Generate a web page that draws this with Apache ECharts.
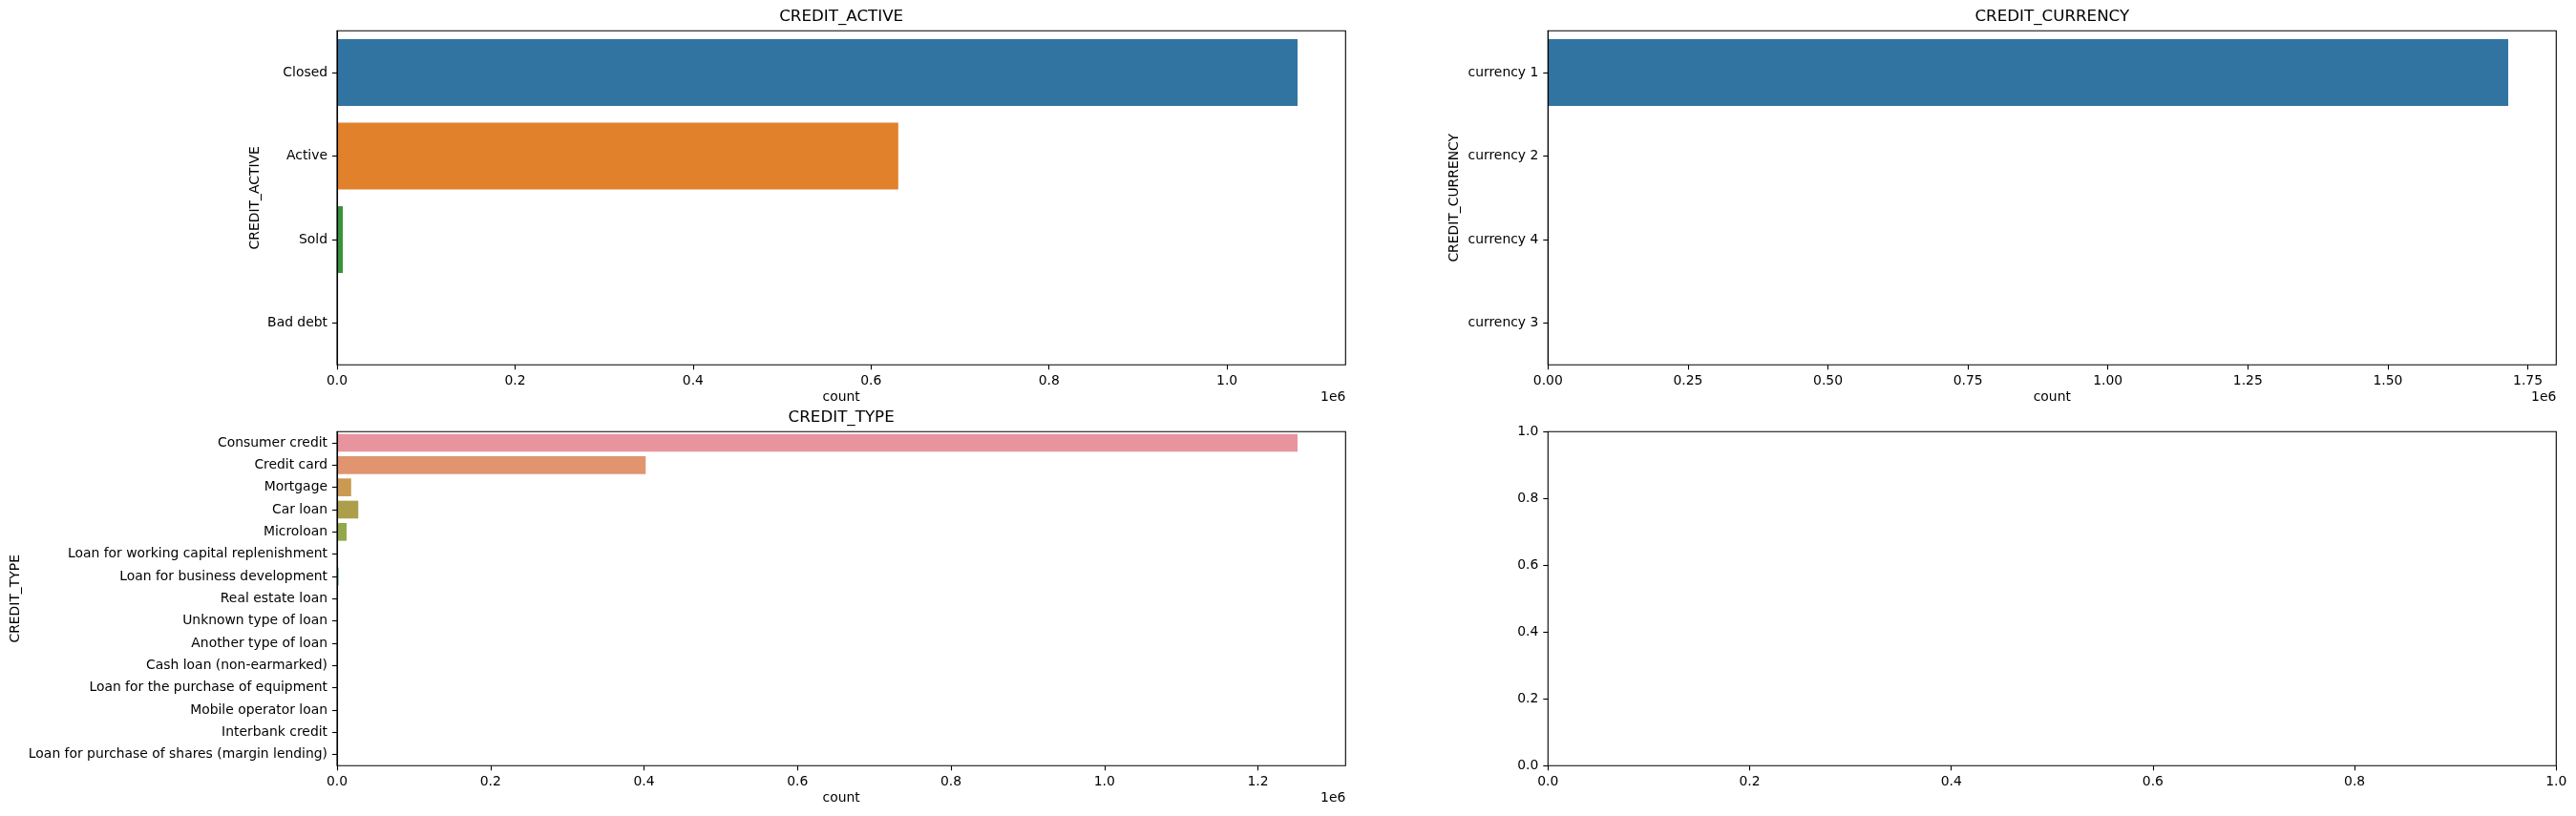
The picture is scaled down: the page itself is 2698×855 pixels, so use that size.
<!DOCTYPE html>
<html><head><meta charset="utf-8">
<script src="https://cdn.jsdelivr.net/npm/echarts@6/dist/echarts.min.js"></script>
<style>html,body{margin:0;padding:0;background:#fff}#c{width:2698px;height:855px}</style>
</head><body><div id="c"></div>
<script>
// ---- data ----
const activeCats = ['Closed', 'Active', 'Sold', 'Bad debt'];
const activeCounts = [1079273, 630607, 6527, 21];

const currencyCats = ['currency 1', 'currency 2', 'currency 4', 'currency 3'];
const currencyCounts = [1715020, 1224, 10, 174];

const typeCats = [
  'Consumer credit', 'Credit card', 'Mortgage', 'Car loan', 'Microloan',
  'Loan for working capital replenishment', 'Loan for business development',
  'Real estate loan', 'Unknown type of loan', 'Another type of loan',
  'Cash loan (non-earmarked)', 'Loan for the purchase of equipment',
  'Mobile operator loan', 'Interbank credit', 'Loan for purchase of shares (margin lending)'
];
const typeCounts = [1251615, 402195, 18391, 27690, 12413, 469, 1975, 27, 555, 1017, 56, 19, 1, 1, 4];

// tick labels (in units of 1e6 for the count axes)
const activeTicks = [0, 0.2, 0.4, 0.6, 0.8, 1.0];
const currencyTicks = [0, 0.25, 0.5, 0.75, 1.0, 1.25, 1.5, 1.75];
const typeTicks = [0, 0.2, 0.4, 0.6, 0.8, 1.0, 1.2];
const emptyTicks = [0, 0.2, 0.4, 0.6, 0.8, 1.0];

// ---- styles ----
const deepPalette = ['#3274a1', '#e1812c', '#3a923a', '#c03d3e'];
const huslPalette = ['#e8949f', '#e0956f', '#c99a50', '#ad9f49', '#93a84b', '#6aae4f', '#52ae7d',
  '#55ab97', '#57a9a8', '#5aa7b9', '#64a3d0', '#8e9ee0', '#b293e0', '#d489d2', '#e18bb4'];

const FONT = 'DejaVu Sans';
const LBL = {color: '#000', fontFamily: FONT, fontSize: 13.9};

const G = [
  {left: 353, top: 32.3, width: 1056.3, height: 350},
  {left: 1621.3, top: 32.3, width: 1056, height: 350},
  {left: 353, top: 452.3, width: 1056.3, height: 350},
  {left: 1621.3, top: 452.3, width: 1056, height: 350}
];

function countAxis(gi, ticks, digits, maxVal) {
  const vals = ticks.map(t => t * 1e6);
  return {
    type: 'value', gridIndex: gi, min: 0, max: maxVal * 1.05,
    name: 'count', nameLocation: 'middle', nameGap: 27,
    nameTextStyle: LBL,
    axisLine: {show: false},
    splitLine: {show: false},
    axisTick: {show: true, length: 5, lineStyle: {color: '#000', width: 1.1}, customValues: vals},
    axisLabel: {show: true, margin: 10, ...LBL, customValues: vals,
      formatter: v => (v / 1e6).toFixed(digits)}
  };
}
function catAxis(gi, cats, name, gap) {
  return {
    type: 'category', gridIndex: gi, data: cats, inverse: true, z: 5,
    name: name, nameLocation: 'middle', nameGap: gap, nameTextStyle: LBL,
    axisLine: {show: true, onZero: false, lineStyle: {color: '#000', width: 1.1}},
    axisTick: {show: true, alignWithLabel: true, length: 5, lineStyle: {color: '#000', width: 1.1}},
    axisLabel: {show: true, margin: 10, ...LBL, interval: 0},
    splitLine: {show: false}
  };
}
function unitAxis(gi, ticks) {
  return {
    type: 'value', gridIndex: gi, min: 0, max: 1, interval: 0.2,
    axisLine: {show: false}, splitLine: {show: false},
    axisTick: {show: true, length: 5, lineStyle: {color: '#000', width: 1.1}, customValues: ticks},
    axisLabel: {show: true, margin: 10, ...LBL, customValues: ticks, formatter: v => v.toFixed(1)}
  };
}
function barData(vals, palette) {
  return vals.map((v, i) => ({value: v, itemStyle: {color: palette[i % palette.length]}}));
}

const gridStyle = {show: true, borderColor: '#000', borderWidth: 1.1, backgroundColor: '#fff', containLabel: false};

function titleText(txt, cx, cy) {
  return {type: 'text', x: cx, y: cy, style: {text: txt, fill: '#000', font: '16.7px "DejaVu Sans"',
    align: 'center', textAlign: 'center', verticalAlign: 'middle', textVerticalAlign: 'middle'}};
}
function offsetText(rx, cy) {
  return {type: 'text', x: rx, y: cy, style: {text: '1e6', fill: '#000', font: '13.9px "DejaVu Sans"',
    align: 'right', textAlign: 'right', verticalAlign: 'middle', textVerticalAlign: 'middle'}};
}

const option = {
  animation: false,
  backgroundColor: '#fff',
  grid: G.map(g => Object.assign({}, gridStyle, g)),
  xAxis: [
    countAxis(0, activeTicks, 1, Math.max(...activeCounts)),
    countAxis(1, currencyTicks, 2, Math.max(...currencyCounts)),
    countAxis(2, typeTicks, 1, Math.max(...typeCounts)),
    unitAxis(3, emptyTicks)
  ],
  yAxis: [
    catAxis(0, activeCats, 'CREDIT_ACTIVE', 79),
    catAxis(1, currencyCats, 'CREDIT_CURRENCY', 91),
    catAxis(2, typeCats, 'CREDIT_TYPE', 330),
    unitAxis(3, emptyTicks)
  ],
  series: [
    {type: 'bar', xAxisIndex: 0, yAxisIndex: 0, barCategoryGap: '20%', data: barData(activeCounts, deepPalette)},
    {type: 'bar', xAxisIndex: 1, yAxisIndex: 1, barCategoryGap: '20%', data: barData(currencyCounts, deepPalette)},
    {type: 'bar', xAxisIndex: 2, yAxisIndex: 2, barCategoryGap: '20%', data: barData(typeCounts, huslPalette)},
    {type: 'scatter', xAxisIndex: 3, yAxisIndex: 3, data: []}
  ],
  graphic: [
    titleText('CREDIT_ACTIVE', 353 + 1056.3 / 2, 18),
    titleText('CREDIT_CURRENCY', 1621.3 + 1056 / 2, 18),
    titleText('CREDIT_TYPE', 353 + 1056.3 / 2, 438),
    offsetText(1409.3, 416.8),
    offsetText(2677.3, 416.8),
    offsetText(1409.3, 836.8)
  ]
};
const chart = echarts.init(document.getElementById('c'), null, {renderer: 'canvas'});
chart.setOption(option);
</script>
</body></html>
